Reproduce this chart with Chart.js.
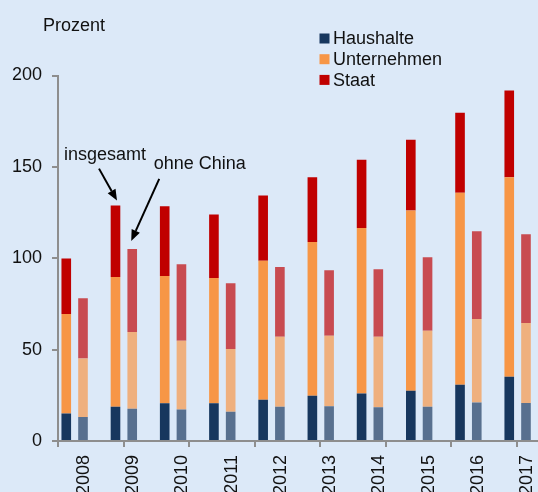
<!DOCTYPE html>
<html>
<head>
<meta charset="utf-8">
<script src="https://cdn.jsdelivr.net/npm/chart.js@4"></script>
<style>
  html, body { margin: 0; padding: 0; background: #dce9f8; overflow: hidden; }
  #wrap { position: relative; width: 538px; height: 492px; }
</style>
</head>
<body>
<div id="wrap"><canvas id="chart" width="538" height="492"></canvas></div>
<script>
const years = ['2008', '2009', '2010', '2011', '2012', '2013', '2014', '2015', '2016', '2017']

// insgesamt
const haushalte = [15, 18.8, 20.6, 20.6, 22.6, 24.8, 26, 27.5, 30.8, 35.1]
const unternehmen = [54.5, 71, 69.7, 68.6, 76.1, 84.1, 90.6, 98.6, 105.1, 109.2]
const staat = [30.4, 39, 38.1, 34.8, 35.7, 35.4, 37.3, 38.7, 43.7, 47.5]

// ohne China
const haushalteOC = [13.1, 17.7, 17.3, 16, 18.7, 19, 18.4, 18.8, 21.1, 20.8]
const unternehmenOC = [32, 42, 37.5, 34.4, 38.3, 38.6, 38.6, 41.5, 45.7, 43.8]
const staatOC = [33, 45.4, 41.9, 35.9, 38.2, 35.8, 37, 40.2, 48, 48.5]

const seriesNames = ['Haushalte', 'Unternehmen', 'Staat']
const yTicks = [0, 50, 100, 150, 200]

const colors = ['#17375e', '#f79646', '#c00000']
const colorsOC = ['#58708f', '#efb07e', '#c84b51']
const axisColor = '#8e8e8e'
const font = 'Liberation Sans, Arial, sans-serif'
const fontSize = 18

const toPoints = (arr) => arr.map((v, i) => ({ x: i, y: v }))

const makeSet = (label, data, color, stack) => ({
  label,
  data: toPoints(data),
  backgroundColor: color,
  borderWidth: 0,
  stack,
  xAxisID: 'xb',
  categoryPercentage: 0.68,
  barPercentage: 0.575,
})

const datasets = [
  makeSet(seriesNames[0], haushalte, colors[0], 'all'),
  makeSet(seriesNames[1], unternehmen, colors[1], 'all'),
  makeSet(seriesNames[2], staat, colors[2], 'all'),
  makeSet(seriesNames[0] + ' oC', haushalteOC, colorsOC[0], 'oc'),
  makeSet(seriesNames[1] + ' oC', unternehmenOC, colorsOC[1], 'oc'),
  makeSet(seriesNames[2] + ' oC', staatOC, colorsOC[2], 'oc'),
]

const arrow = (ctx, x1, y1, x2, y2) => {
  const ang = Math.atan2(y2 - y1, x2 - x1)
  const len = 11, half = 4.5
  const bx = x2 - len * Math.cos(ang), by = y2 - len * Math.sin(ang)
  ctx.beginPath()
  ctx.moveTo(x1, y1)
  ctx.lineTo(bx, by)
  ctx.stroke()
  ctx.beginPath()
  ctx.moveTo(x2, y2)
  ctx.lineTo(bx + half * Math.sin(ang), by - half * Math.cos(ang))
  ctx.lineTo(bx - half * Math.sin(ang), by + half * Math.cos(ang))
  ctx.closePath()
  ctx.fill()
}

const extras = {
  id: 'extras',
  afterDatasetsDraw(chart) {
    const ctx = chart.ctx
    ctx.save()
    ctx.fillStyle = '#111'
    ctx.font = fontSize + 'px ' + font
    ctx.textBaseline = 'alphabetic'
    ctx.textAlign = 'left'
    ctx.fillText('Prozent', 43, 30.5)

    // legend
    seriesNames.forEach((name, i) => {
      ctx.fillStyle = colors[i]
      ctx.fillRect(319.5, 33.5 + i * 20.7, 10, 10)
      ctx.fillStyle = '#111'
      ctx.fillText(name, 333, 44.2 + i * 20.7)
    })

    // annotations for 2009
    const a = chart.getDatasetMeta(2).data[1]
    const b = chart.getDatasetMeta(5).data[1]
    ctx.fillText('insgesamt', a.x - 51.5, a.y - 45.5)
    ctx.fillText('ohne China', b.x + 21.5, b.y - 79.5)
    ctx.strokeStyle = '#000'
    ctx.fillStyle = '#000'
    ctx.lineWidth = 2
    arrow(ctx, a.x - 16.5, a.y - 37, a.x + 1.5, a.y - 5)
    arrow(ctx, b.x + 27, b.y - 70, b.x - 1, b.y - 8)
    ctx.restore()
  }
}

const noSidePadding = (s) => { s.paddingLeft = 0; s.paddingRight = 0 }

new Chart(document.getElementById('chart'), {
  type: 'bar',
  data: { datasets },
  plugins: [extras],
  options: {
    responsive: false,
    animation: false,
    layout: { padding: { top: 75.5, left: 0, right: 0, bottom: 0 } },
    plugins: { legend: { display: false }, tooltip: { enabled: false } },
    scales: {
      xb: {
        type: 'linear',
        axis: 'x',
        display: false,
        min: -0.338,
        max: 9.414,
        offset: false,
        grid: { offset: false },
      },
      x: {
        type: 'linear',
        weight: 1,
        min: -0.528,
        max: 9.224,
        offset: false,
        grid: { display: false, drawTicks: false, offset: false },
        border: { display: false },
        ticks: {
          stepSize: 1,
          includeBounds: false,
          autoSkip: false,
          minRotation: 90,
          maxRotation: 90,
          padding: 6,
          color: '#111',
          font: { family: font, size: fontSize },
          callback: (v) => years[v] ?? '',
        },
        afterFit: (s) => { s.height = 43; noSidePadding(s) },
      },
      x2: {
        type: 'linear',
        axis: 'x',
        position: 'bottom',
        weight: 0,
        min: 0,
        max: 7.328,
        offset: false,
        grid: { drawOnChartArea: false, drawTicks: true, tickLength: 6, color: axisColor, lineWidth: 2, offset: false },
        border: { display: true, color: axisColor, width: 2 },
        ticks: { stepSize: 1, includeBounds: false, display: false },
        afterFit: (s) => { s.height = 8; noSidePadding(s) },
      },
      y: {
        stacked: true,
        min: 0,
        max: 200,
        afterBuildTicks: (s) => { s.ticks = yTicks.map(v => ({ value: v })) },
        grid: { drawOnChartArea: false, tickLength: 6, color: axisColor, lineWidth: 2 },
        border: { display: true, color: axisColor, width: 2 },
        ticks: { padding: 10, color: '#111', font: { family: font, size: fontSize } },
        afterFit: (s) => { s.width = 58 },
      }
    }
  }
})
</script>
</body>
</html>
